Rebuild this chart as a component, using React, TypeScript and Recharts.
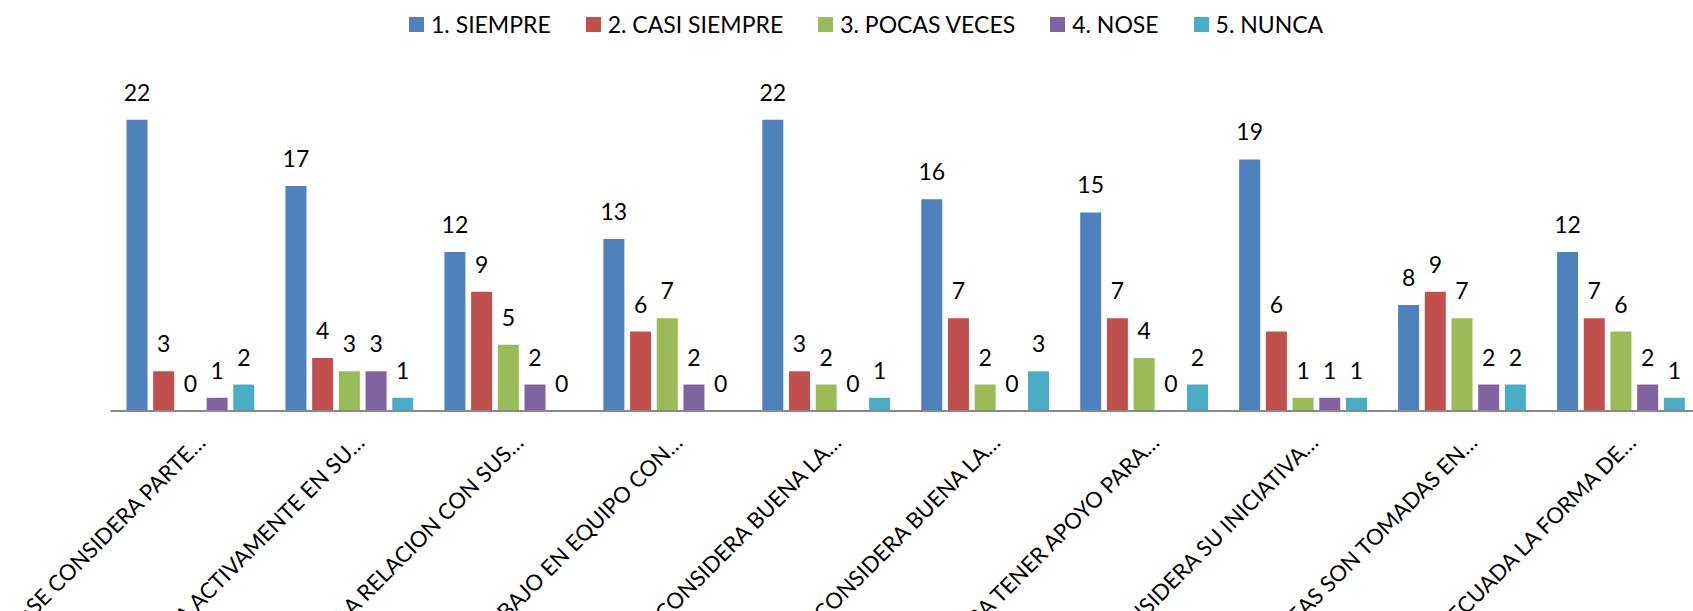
import React from 'react'
import { BarChart, Bar, XAxis, YAxis, Legend, LabelList } from 'recharts'

const categories = [
  '¿SE CONSIDERA PARTE…',
  '¿PARTICIPA ACTIVAMENTE EN SU…',
  '¿COMO ES LA RELACION CON SUS…',
  '¿REALIZA TRABAJO EN EQUIPO CON…',
  '¿CONSIDERA BUENA LA…',
  '¿CONSIDERA BUENA LA…',
  '¿CUENTA PARA TENER APOYO PARA…',
  '¿CONSIDERA SU INICIATIVA…',
  '¿SUS IDEAS SON TOMADAS EN…',
  '¿ES ADECUADA LA FORMA DE…',
]

const siempre = [22, 17, 12, 13, 22, 16, 15, 19, 8, 12]
const casiSiempre = [3, 4, 9, 6, 3, 7, 7, 6, 9, 7]
const pocasVeces = [0, 3, 5, 7, 2, 2, 4, 1, 7, 6]
const nose = [1, 3, 2, 2, 0, 0, 0, 1, 2, 2]
const nunca = [2, 1, 0, 0, 1, 3, 2, 1, 2, 1]

const series = [
  { key: 'siempre', name: '1. SIEMPRE', color: '#4F81BD', values: siempre },
  { key: 'casiSiempre', name: '2. CASI SIEMPRE', color: '#C0504D', values: casiSiempre },
  { key: 'pocasVeces', name: '3. POCAS VECES', color: '#9BBB59', values: pocasVeces },
  { key: 'nose', name: '4. NOSE', color: '#8064A2', values: nose },
  { key: 'nunca', name: '5. NUNCA', color: '#4BACC6', values: nunca },
]

const data = categories.map((cat, i) => {
  const row: Record<string, string | number> = { cat }
  series.forEach((s) => {
    row[s.key] = s.values[i]
  })
  return row
})

const FONT = 'Lato, "Open Sans", sans-serif'

const AngledTick = (props: any) => {
  const { x, y, payload } = props
  return (
    <g transform={`translate(${x + 17},${y + 25})`}>
      <text textAnchor="end" transform="rotate(-45)" fontSize={22} fill="#000" fontFamily={FONT}>
        {payload.value}
      </text>
    </g>
  )
}

// value labels drawn by hand so that the zeros show too
const ValueLabel = (props: any) => {
  const { x, y, width, value } = props
  return (
    <text x={x + width / 2} y={y - 19} textAnchor="middle" fontSize={23} fill="#000" fontFamily={FONT}>
      {value}
    </text>
  )
}

const renderLegend = () => (
  <div style={{ display: 'flex', alignItems: 'center', height: 40, fontFamily: FONT, fontSize: 23, color: '#000' }}>
    {series.map((s) => (
      <div key={s.key} style={{ display: 'flex', alignItems: 'center', marginRight: 35 }}>
        <span style={{ width: 15, height: 15, background: s.color, display: 'inline-block', marginRight: 7 }} />
        <span>{s.name}</span>
      </div>
    ))}
  </div>
)

export default function App() {
  return (
    <div style={{ position: 'fixed', left: 0, top: 0, width: 1693, height: 611, overflow: 'hidden', background: '#fff' }}>
      <BarChart
        width={1720}
        height={611}
        data={data}
        margin={{ top: 40, right: 20, left: 110.5, bottom: 0 }}
        barSize={21}
        barGap={5.7}
      >
        <Legend
          verticalAlign="top"
          align="left"
          content={renderLegend}
          wrapperStyle={{ left: 409, top: 4, width: 1100 }}
        />
        <YAxis hide domain={[0, 25]} />
        <XAxis
          dataKey="cat"
          interval={0}
          height={200}
          tickLine={false}
          axisLine={{ stroke: '#898989', strokeWidth: 2 }}
          tick={<AngledTick />}
        />
        {series.map((s) => (
          <Bar key={s.key} dataKey={s.key} name={s.name} fill={s.color} minPointSize={0.01} isAnimationActive={false}>
            <LabelList dataKey={s.key} content={<ValueLabel />} />
          </Bar>
        ))}
      </BarChart>
    </div>
  )
}
